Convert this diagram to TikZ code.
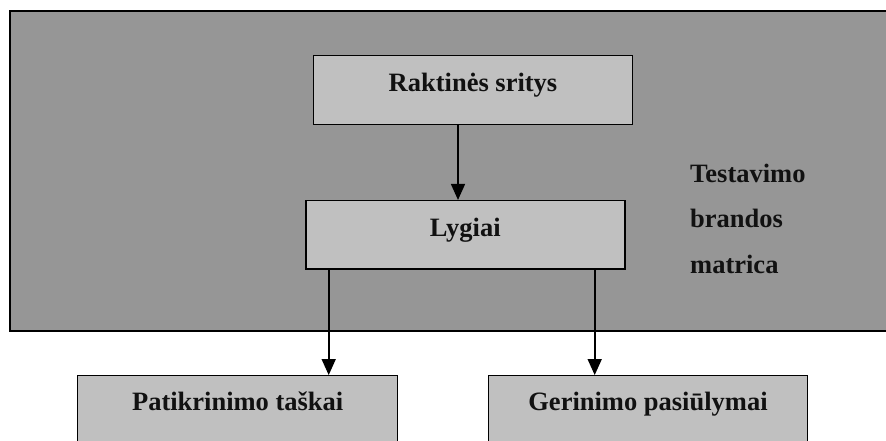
\documentclass[tikz,border=0pt]{standalone}
\usepackage{fontspec}
\setmainfont{Liberation Serif}
\usetikzlibrary{arrows.meta}
\definecolor{panelgray}{RGB}{150,150,150}
\definecolor{boxgray}{RGB}{192,192,192}
\definecolor{inkblack}{RGB}{17,17,17}
\begin{document}
\begin{tikzpicture}[x=1pt, y=-1pt,
  labelfont/.style={font=\fontsize{26.5}{45.5}\selectfont\bfseries, text=inkblack},
  stagebox/.style={draw=black, line width=1.4pt, fill=boxgray, inner sep=0pt,
    minimum width=319pt, minimum height=68.5pt, labelfont,
    text height=14pt, text depth=10pt},
  arr/.style={draw=black, line width=1.6pt, -{Triangle[length=16pt,width=14pt]}}]
\useasboundingbox (0,0) rectangle (886,441);

% the maturity matrix panel, running off the right edge
\node[draw=black, line width=1.5pt, fill=panelgray, anchor=north west,
  inner sep=0pt, minimum width=900pt, minimum height=319.5pt] (panel) at (9,10.5) {};

\node[stagebox] (areas) at (473,90) {Raktinės sritys};
\node[stagebox] (levels) at (465.3,234.9) {Lygiai};
\node[stagebox, minimum width=320pt, text height=12pt, text depth=12pt] (checks) at (237.7,410) {Patikrinimo taškai};
\node[stagebox, minimum width=319.4pt, text height=12pt, text depth=12pt] (ideas) at (648,410) {Gerinimo pasiūlymai};

% panel caption; the base anchor sits on the last line
\node[labelfont, anchor=base west, align=left, inner sep=0pt] (title) at (690,273)
  {Testavimo\\brandos\\matrica};

\draw[arr] ([xshift=-15pt]areas.south) -- ([xshift=-15pt]areas.south |- levels.north);
\draw[arr] ([xshift=-136.6pt]levels.south) -- ([xshift=-136.6pt]levels.south |- checks.north);
\draw[arr] ([xshift=129.4pt]levels.south) -- ([xshift=129.4pt]levels.south |- ideas.north);
\end{tikzpicture}
\end{document}
